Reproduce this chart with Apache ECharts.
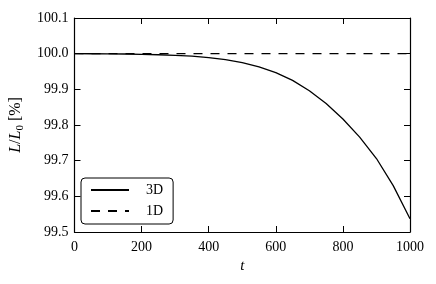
<!DOCTYPE html>
<html>
<head>
<meta charset="utf-8">
<script src="https://cdn.jsdelivr.net/npm/echarts@6/dist/echarts.min.js"></script>
<style>html,body{margin:0;padding:0;background:#fff}#c{width:436px;height:284px}</style>
</head>
<body>
<div id="c"></div>
<script>
const tValues = [0, 50, 100, 150, 200, 250, 300, 350, 400, 450, 500, 550, 600, 650, 700, 750, 800, 850, 900, 950, 1000];
const l3D = [100.0, 99.9998, 99.9995, 99.999, 99.998, 99.997, 99.995, 99.993, 99.989, 99.983, 99.975, 99.963, 99.947, 99.925, 99.896, 99.860, 99.817, 99.766, 99.706, 99.630, 99.537];
const l1D = [100.0, 100.0, 100.0, 100.0, 100.0, 100.0, 100.0, 100.0, 100.0, 100.0, 100.0, 100.0, 100.0, 100.0, 100.0, 100.0, 100.0, 100.0, 100.0, 100.0, 100.0];
const seriesNames = ['3D', '1D'];
const xTicks = [0, 200, 400, 600, 800, 1000];
const yTicks = [99.5, 99.6, 99.7, 99.8, 99.9, 100.0, 100.1];

const font = '"Liberation Serif", "DejaVu Serif", serif';
const chart = echarts.init(document.getElementById('c'), null, {renderer: 'canvas'});
const axisBase = {
  type: 'value',
  axisLine: {show: true, onZero: false, lineStyle: {color: '#000', width: 1.2}},
  axisTick: {show: true, inside: true, length: 6, lineStyle: {color: '#000', width: 1}},
  splitLine: {show: false},
};
chart.setOption({
  animation: false,
  textStyle: {fontFamily: font},
  grid: {left: 73, right: 26, top: 18, bottom: 52, containLabel: false},
  legend: {
    data: seriesNames,
    orient: 'vertical',
    left: 81, top: 178,
    padding: [5, 10, 6, 9],
    itemWidth: 38, itemHeight: 14, itemGap: 7,
    borderColor: '#000', borderWidth: 1, borderRadius: 4,
    backgroundColor: '#fff',
    itemStyle: {opacity: 0},
    textStyle: {fontFamily: font, fontSize: 14, color: '#000', padding: [0, 0, 0, 12]}
  },
  xAxis: [
    Object.assign({}, axisBase, {
      min: 0, max: 1000, interval: 200, position: 'bottom',
      name: 't', nameLocation: 'middle', nameGap: 27,
      nameTextStyle: {fontFamily: font, fontSize: 15, fontStyle: 'italic', color: '#000'},
      axisLabel: {fontFamily: font, fontSize: 14, color: '#000', margin: 8,
        formatter: v => String(v)}
    }),
    Object.assign({}, axisBase, {
      min: 0, max: 1000, interval: 200, position: 'top',
      axisLabel: {show: false}
    })
  ],
  yAxis: [
    Object.assign({}, axisBase, {
      min: 99.5, max: 100.1, interval: 0.1, position: 'left',
      name: '{i|L}/{i|L}{s|0} [%]', nameLocation: 'middle', nameGap: 49, nameRotate: 90,
      nameTextStyle: {fontFamily: font, fontSize: 16, color: '#000',
        rich: {i: {fontFamily: font, fontSize: 16, fontStyle: 'italic'},
               s: {fontFamily: font, fontSize: 11, verticalAlign: 'bottom', padding: [8, 0, 0, 0]}}},
      axisLabel: {fontFamily: font, fontSize: 14, color: '#000', margin: 6,
        formatter: v => v.toFixed(1)}
    }),
    Object.assign({}, axisBase, {
      min: 99.5, max: 100.1, interval: 0.1, position: 'right',
      axisLabel: {show: false}
    })
  ],
  series: [
    {name: seriesNames[0], type: 'line', xAxisIndex: 0, yAxisIndex: 0, symbol: 'none',
     smooth: false,
     data: tValues.map((t, i) => [t, l3D[i]]),
     lineStyle: {color: '#000', width: 1.3, type: 'solid'}, itemStyle: {color: '#000'}},
    {name: seriesNames[1], type: 'line', xAxisIndex: 0, yAxisIndex: 0, symbol: 'none',
     data: tValues.map((t, i) => [t, l1D[i]]),
     lineStyle: {color: '#000', width: 1.3, type: [9, 8]}, itemStyle: {color: '#000'}}
  ]
});
</script>
</body>
</html>
